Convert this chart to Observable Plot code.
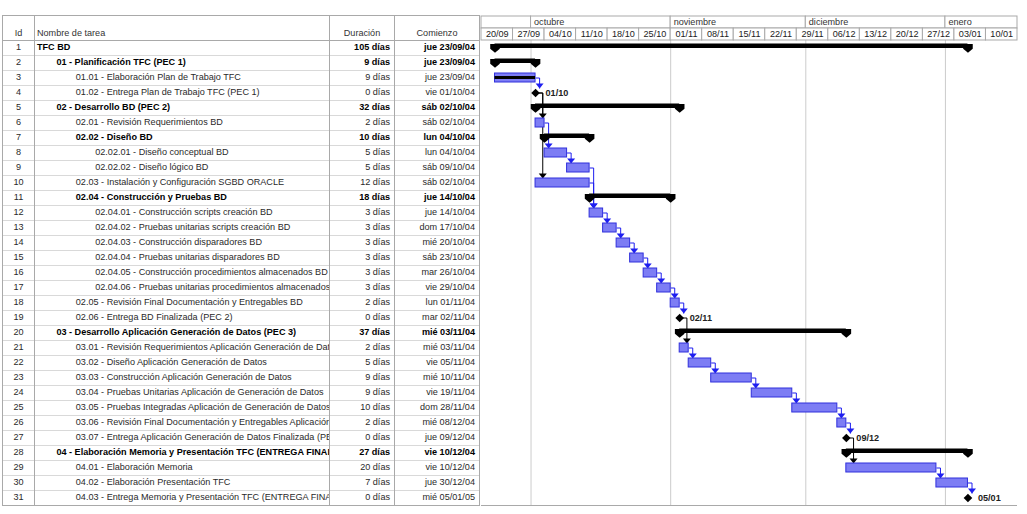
<!DOCTYPE html>
<html lang="es">
<head>
<meta charset="utf-8">
<script src="https://cdn.jsdelivr.net/npm/d3@7"></script>
<script src="https://cdn.jsdelivr.net/npm/@observablehq/plot@0.6"></script>
<style>
html,body{margin:0;padding:0;background:#fff;}
#wrap{position:relative;width:1027px;height:514px;overflow:hidden;font-family:"Liberation Sans",Arial,sans-serif;font-size:9.1px;color:#2a2a2a;}
.c{position:absolute;box-sizing:border-box;white-space:nowrap;overflow:hidden;line-height:14px;border-right:1px solid #a9a9a9;border-bottom:1px solid #d9d9d9;}
.h{border-bottom:1px solid #a9a9a9;border-top:1px solid #a9a9a9;line-height:12px;padding-top:11px;color:#333;}
.b{font-weight:bold;color:#000;}
#gantt,#ghead{position:absolute;left:480px;top:0;}
#gantt svg,#ghead svg{overflow:visible;}
</style>
</head>
<body>
<div id="wrap">
  <div id="table"></div>
  <div id="gantt"></div>
  <div id="ghead"></div>
</div>
<script>
// ---------- data ----------
const taskIds = d3.range(1, 32);
const taskNames = [
  "TFC BD",
  "01 - Planificación TFC (PEC 1)",
  "01.01 - Elaboración Plan de Trabajo TFC",
  "01.02 - Entrega Plan de Trabajo TFC (PEC 1)",
  "02 - Desarrollo BD (PEC 2)",
  "02.01 - Revisión Requerimientos BD",
  "02.02 - Diseño BD",
  "02.02.01 - Diseño conceptual BD",
  "02.02.02 - Diseño lógico BD",
  "02.03 - Instalación y Configuración SGBD ORACLE",
  "02.04 - Construcción y Pruebas BD",
  "02.04.01 - Construcción scripts creación BD",
  "02.04.02 - Pruebas unitarias scripts creación BD",
  "02.04.03 - Construcción disparadores BD",
  "02.04.04 - Pruebas unitarias disparadores BD",
  "02.04.05 - Construcción procedimientos almacenados BD",
  "02.04.06 - Pruebas unitarias procedimientos almacenados BD",
  "02.05 - Revisión Final Documentación y Entregables BD",
  "02.06 - Entrega BD Finalizada (PEC 2)",
  "03 - Desarrollo Aplicación Generación de Datos (PEC 3)",
  "03.01 - Revisión Requerimientos Aplicación Generación de Datos",
  "03.02 - Diseño Aplicación Generación de Datos",
  "03.03 - Construcción Aplicación Generación de Datos",
  "03.04 - Pruebas Unitarias Aplicación de Generación de Datos",
  "03.05 - Pruebas Integradas Aplicación de Generación de Datos",
  "03.06 - Revisión Final Documentación y Entregables Aplicación",
  "03.07 - Entrega Aplicación Generación de Datos Finalizada (PEC 3)",
  "04 - Elaboración Memoria y Presentación TFC (ENTREGA FINAL)",
  "04.01 - Elaboración Memoria",
  "04.02 - Elaboración Presentación TFC",
  "04.03 - Entrega Memoria y Presentación TFC (ENTREGA FINAL)"
];
const taskLevels = [0,1,2,2,1,2,2,3,3,2,2,3,3,3,3,3,3,2,2,1,2,2,2,2,2,2,2,1,2,2,2];
// S = summary, T = task, M = milestone
const taskTypes = ["S","S","T","M","S","T","S","T","T","T","S","T","T","T","T","T","T","T","M","S","T","T","T","T","T","T","M","S","T","T","M"];
const taskDurations = [105,9,9,0,32,2,10,5,5,12,18,3,3,3,3,3,3,2,0,37,2,5,9,9,10,2,0,27,20,7,0];
const taskStarts = [
  "2004-09-23","2004-09-23","2004-09-23","2004-10-01","2004-10-02","2004-10-02",
  "2004-10-04","2004-10-04","2004-10-09","2004-10-02","2004-10-14","2004-10-14",
  "2004-10-17","2004-10-20","2004-10-23","2004-10-26","2004-10-29","2004-11-01",
  "2004-11-02","2004-11-03","2004-11-03","2004-11-05","2004-11-10","2004-11-19",
  "2004-11-28","2004-12-08","2004-12-09","2004-12-10","2004-12-10","2004-12-30",
  "2005-01-05"
];
const taskComplete = [0,0,100,0,0,0,0,0,0,0,0,0,0,0,0,0,0,0,0,0,0,0,0,0,0,0,0,0,0,0,0];
const taskLinks = [
  [3,4],[4,6],[4,10],[6,8],[8,9],[9,12],[10,12],[12,13],[13,14],[14,15],[15,16],
  [16,17],[17,18],[18,19],[19,21],[21,22],[22,23],[23,24],[24,25],[25,26],[26,27],
  [27,29],[29,30],[30,31]
];
const weekLabels = ["20/09","27/09","04/10","11/10","18/10","25/10","01/11","08/11","15/11",
  "22/11","29/11","06/12","13/12","20/12","27/12","03/01","10/01"];
const monthLabels = ["septiembre","octubre","noviembre","diciembre","enero"];
const dayNames = ["dom","lun","mar","mié","jue","vie","sáb"];
const tableHeads = ["Id","Nombre de tarea","Duración","Comienzo"];

// ---------- derived ----------
const DAY = 864e5;
const parse = d3.utcParse("%Y-%m-%d");
const tasks = taskIds.map((id, i) => {
  const start = parse(taskStarts[i]);
  const type = taskTypes[i];
  const end = new Date(+start + (type === "M" ? 1 : taskDurations[i]) * DAY);
  return {id, name: taskNames[i], level: taskLevels[i], type, start, end,
          dur: taskDurations[i], complete: taskComplete[i]};
});
const byId = new Map(tasks.map(t => [t.id, t]));
const fmtDate = d3.utcFormat("%d/%m/%y");
const fmtShort = d3.utcFormat("%d/%m");

// ---------- table (HTML) ----------
const table = document.getElementById("table");
const HEAD_TOP = 15, ROW_TOP = 40, ROW_H = 15;
const cols = [
  {left: 2, width: 33, align: "center", headAlign: "center"},
  {left: 35, width: 295, align: "left", headAlign: "left"},
  {left: 330, width: 65, align: "right", headAlign: "center"},
  {left: 395, width: 85, align: "right", headAlign: "center"}
];
function cell(col, top, height, text, cls, align, padL, padR) {
  const d = document.createElement("div");
  d.className = "c " + cls;
  d.style.left = col.left + "px";
  d.style.top = top + "px";
  d.style.width = col.width + "px";
  d.style.height = height + "px";
  d.style.textAlign = align;
  d.style.paddingLeft = (padL || 0) + "px";
  d.style.paddingRight = (padR || 0) + "px";
  if (col.left === 2) d.style.borderLeft = "1px solid #a9a9a9";
  d.textContent = text;
  table.appendChild(d);
  return d;
}
cols.forEach((col, j) => {
  cell(col, HEAD_TOP, ROW_TOP - HEAD_TOP + 1, tableHeads[j], "h", col.headAlign, j === 1 ? 2 : 0, 0);
});
tasks.forEach((t, i) => {
  const top = ROW_TOP + i * ROW_H;
  const bold = t.type === "S" ? "b" : "";
  const last = i === tasks.length - 1;
  const vals = [String(t.id), t.name, `${t.dur} días`, `${dayNames[t.start.getUTCDay()]} ${fmtDate(t.start)}`];
  cols.forEach((col, j) => {
    const d = cell(col, top, ROW_H + 1, vals[j], j === 0 ? "" : bold, col.align,
      j === 1 ? 2 + t.level * 19.4 : 0, j === 2 ? 4 : j === 3 ? 4 : 0);
    if (last) d.style.borderBottom = "1px solid #a9a9a9";
  });
});

// ---------- Gantt (Plot) ----------
const xDomain = [new Date(Date.UTC(2004, 8, 20)), new Date(Date.UTC(2005, 0, 17))];
const monthStarts = d3.utcMonth.range(d3.utcMonth.floor(xDomain[0]), xDomain[1]);
const monthCells = monthStarts.map((m, i) => ({
  x1: m < xDomain[0] ? xDomain[0] : m,
  x2: d3.utcMonth.offset(m, 1) > xDomain[1] ? xDomain[1] : d3.utcMonth.offset(m, 1),
  label: m < xDomain[0] ? "" : monthLabels[i]
}));
const weekCells = d3.utcMonday.range(xDomain[0], xDomain[1]).map((w, i) => ({
  x1: w, x2: d3.utcDay.offset(w, 7), mid: new Date(+w + 3.5 * DAY), label: weekLabels[i]
}));

const LINK_BLUE = "#1e1ef0";
const linkData = taskLinks.map(([a, b]) => {
  const p = byId.get(a), s = byId.get(b);
  const off = p.type === "M" ? 1.6 : 0.9;
  return {x1: p.end, y1: p.id, x2: new Date(+p.end + off * DAY), y2: s.id - 0.3,
          color: p.type === "M" ? "#000000" : LINK_BLUE};
});

const summaries = tasks.filter(t => t.type === "S");
const plain = tasks.filter(t => t.type === "T");
const miles = tasks.filter(t => t.type === "M");

const capSym = {draw(c) { c.moveTo(-4.8, -4); c.lineTo(4.8, -4); c.lineTo(4.8, 0.8); c.lineTo(0, 4.8); c.lineTo(-4.8, 0.8); c.closePath(); }};
const diamondSym = {draw(c) { c.moveTo(0, -4.3); c.lineTo(4.3, 0); c.lineTo(0, 4.3); c.lineTo(-4.3, 0); c.closePath(); }};
const arrowSym = {draw(c) { c.moveTo(-4, -5); c.lineTo(4, -5); c.lineTo(0, 0); c.closePath(); }};

const style = {fontFamily: '"Liberation Sans", Arial, sans-serif', fontSize: "9.1px", background: "transparent", overflow: "visible"};
const xScale = {type: "utc", domain: xDomain, axis: null};

const body = Plot.plot({
  width: 547, height: 514,
  marginLeft: 1, marginRight: 10, marginTop: ROW_TOP, marginBottom: 514 - ROW_TOP - 31 * ROW_H,
  x: xScale,
  y: {type: "linear", domain: [0.5, 31.5], reverse: true, axis: null},
  color: {type: "identity"},
  style,
  marks: [
    Plot.ruleX(monthStarts.filter(m => m >= xDomain[0]), {stroke: "#cccccc"}),
    Plot.ruleY([31.5], {stroke: "#a9a9a9"}),
    Plot.link(linkData, {x1: "x1", y1: "y1", x2: "x2", y2: "y2", curve: "step-after", stroke: "color", strokeWidth: 1}),
    Plot.dot(linkData, {x: "x2", y: "y2", symbol: arrowSym, fill: "color", stroke: null}),
    Plot.rect(summaries, {x1: "start", x2: "end", y1: d => d.id - 0.5, y2: d => d.id + 0.5, insetTop: 3.5, insetBottom: 7, fill: "#000"}),
    Plot.dot(summaries, {x: "start", y: "id", symbol: capSym, fill: "#000", stroke: null}),
    Plot.dot(summaries, {x: "end", y: "id", symbol: capSym, fill: "#000", stroke: null}),
    Plot.rect(plain, {x1: "start", x2: "end", y1: d => d.id - 0.5, y2: d => d.id + 0.5, insetTop: 3, insetBottom: 3, fill: "#7d7df4", stroke: "#3030dc", strokeWidth: 1}),
    Plot.rect(plain.filter(d => d.complete > 0), {x1: "start", x2: d => new Date(+d.start + d.dur * d.complete / 100 * DAY), y1: d => d.id - 0.5, y2: d => d.id + 0.5, insetTop: 6, insetBottom: 6, fill: "#000"}),
    Plot.dot(miles, {x: "end", y: "id", symbol: diamondSym, fill: "#000", stroke: null}),
    Plot.text(miles, {x: "end", y: "id", text: d => fmtShort(d.start), dx: 10, textAnchor: "start", fontWeight: "bold", fill: "#222"})
  ]
});
document.getElementById("gantt").appendChild(body);

const head = Plot.plot({
  width: 547, height: ROW_TOP,
  marginLeft: 1, marginRight: 10, marginTop: HEAD_TOP, marginBottom: 0,
  x: xScale,
  y: {type: "band", domain: ["m", "w"], padding: 0, axis: null},
  style,
  marks: [
    Plot.barX(monthCells, {x1: "x1", x2: "x2", y: () => "m", fill: "#fff", stroke: "#a9a9a9"}),
    Plot.text(monthCells.filter(d => d.label), {x: "x1", y: () => "m", text: "label", dx: 3, textAnchor: "start", fill: "#333"}),
    Plot.barX(weekCells, {x1: "x1", x2: "x2", y: () => "w", fill: "#fff", stroke: "#a9a9a9"}),
    Plot.text(weekCells, {x: "mid", y: () => "w", text: "label", fill: "#222"})
  ]
});
document.getElementById("ghead").appendChild(head);
</script>
</body>
</html>
